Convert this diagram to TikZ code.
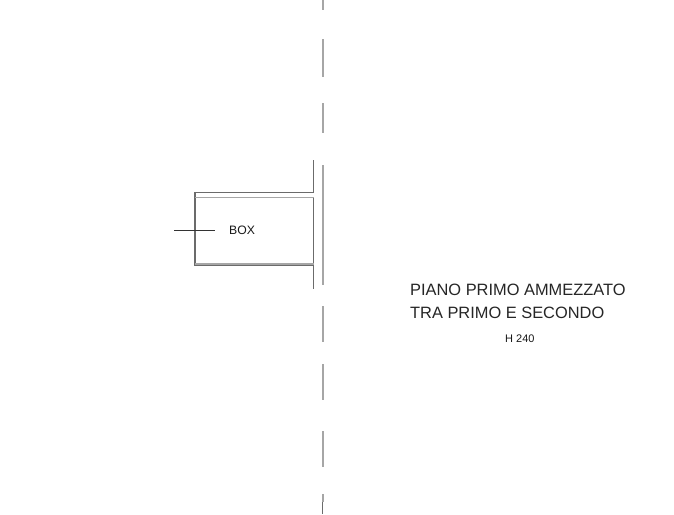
\documentclass[tikz,border=0pt]{standalone}
\usepackage{fontspec}
\setmainfont{Liberation Sans}
\tikzset{
  x=1pt,y=-1pt,
  wall/.style={draw=black!58,line width=1.1pt},
  thin wall/.style={draw=black!35,line width=1.2pt},
  axis/.style={draw=black!35,line width=1.3pt},
  leader/.style={draw=black!80,line width=0.7pt},
  big label/.style={font=\fontsize{16.4}{20}\selectfont,text=black!85,anchor=base west,inner sep=0pt},
  box label/.style={font=\fontsize{12.2}{14}\selectfont,text=black!90,anchor=base west,inner sep=0pt},
  small label/.style={font=\fontsize{11}{13}\selectfont,text=black!90,anchor=base west,inner sep=0pt}
}
\begin{document}
\begin{tikzpicture}
\useasboundingbox[fill=white] (0,0) rectangle (674,514);
% axis dashes
\draw[axis] (323,0) -- (323,10);
\draw[axis] (323,39) -- (323,77);
\draw[axis] (323,103) -- (323,133);
\draw[axis] (323,165) -- (323,285);
\draw[axis] (323,306) -- (323,342);
\draw[axis] (323,364) -- (323,400);
\draw[axis] (323,431) -- (323,467);
\draw[axis] (323,494) -- (323,502);
\draw[wall] (322.3,502) -- (322.3,514);
% wall with opening
\draw[wall] (313.5,160) -- (313.5,192.7) -- (195,192.7) -- (195,265) -- (313.5,265) -- (313.5,289);
\draw[thin wall] (195,197.7) -- (313.5,197.7);
\draw[wall] (313.5,197.7) -- (313.5,265);
\draw[thin wall,line width=2pt] (195,263.7) -- (313.5,263.7);
% label
\coordinate (la) at (174,230.3);
\coordinate (lb) at (215,230.3);
\draw[leader] (la) -- (lb);
\node[box label] (box) at (229,234.5) {BOX};
\node[big label] (t1) at (410,295) {PIANO PRIMO AMMEZZATO};
\node[big label] (t2) at (410,318) {TRA PRIMO E SECONDO};
\node[small label] (t3) at (505,342) {H 240};
\end{tikzpicture}
\end{document}
